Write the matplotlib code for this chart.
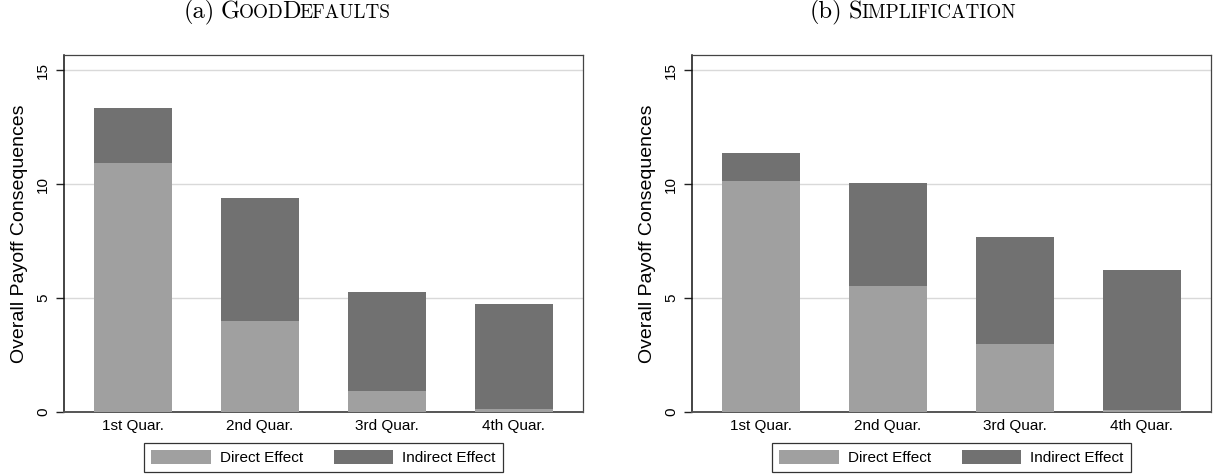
import matplotlib
matplotlib.use("Agg")
import matplotlib.pyplot as plt
import numpy as np

# ---------------- data ----------------
categories = ["1st Quar.", "2nd Quar.", "3rd Quar.", "4th Quar."]
gooddefaults_direct = [10.93, 3.98, 0.91, 0.12]
gooddefaults_indirect = [2.41, 5.41, 4.35, 4.61]
simplification_direct = [10.12, 5.55, 2.99, 0.10]
simplification_indirect = [1.23, 4.52, 4.67, 6.15]
series_labels = ["Direct Effect", "Indirect Effect"]
y_ticks = [0, 5, 10, 15]

# ---------------- style ----------------
W, H = 1213, 476
DPI = 100
C_DIRECT = "#a0a0a0"
C_INDIRECT = "#717171"
GRID = "#d9d9d9"
FONT = ["Liberation Sans", "DejaVu Sans"]
plt.rcParams["font.family"] = FONT

fig = plt.figure(figsize=(W / DPI, H / DPI), dpi=DPI)

def px_axes(l, r, t, b):
    return [l / W, 1 - b / H, (r - l) / W, (b - t) / H]

panels = [
    (px_axes(64, 583, 55, 412), gooddefaults_direct, gooddefaults_indirect),
    (px_axes(692, 1211, 55, 412), simplification_direct, simplification_indirect),
]

x = np.arange(1, len(categories) + 1)
for rect, direct, indirect in panels:
    ax = fig.add_axes(rect)
    ax.bar(x, direct, width=0.61, color=C_DIRECT, zorder=3, linewidth=0,
           label=series_labels[0])
    ax.bar(x, indirect, width=0.61, bottom=direct, color=C_INDIRECT, zorder=3,
           linewidth=0, label=series_labels[1])
    ax.set_xlim(0.455, 4.545)
    ax.set_ylim(0, 15.67)
    ax.set_yticks(y_ticks)
    ax.set_yticklabels([str(v) for v in y_ticks], rotation=90, va="center",
                       fontsize=11)
    ax.set_xticks(x)
    ax.set_xticklabels(categories, fontsize=11)
    ax.tick_params(axis="x", length=0, pad=5)
    ax.tick_params(axis="y", length=6, width=1, pad=4, color="#222222")
    for yv in y_ticks[1:]:
        ax.axhline(yv, color=GRID, lw=1.0, zorder=1)
    for side in ["top", "right"]:
        ax.spines[side].set_color("#444444")
        ax.spines[side].set_linewidth(0.9)
    ax.spines["left"].set_color("#111111")
    ax.spines["left"].set_linewidth(1.1)
    ax.spines["bottom"].set_color("#555555")
    ax.spines["bottom"].set_linewidth(1.4)
    ax.set_ylabel("Overall Payoff Consequences", fontsize=14)
    ax.yaxis.set_label_coords(-0.07, 0.5)
    leg = ax.legend(loc="upper center", bbox_to_anchor=(0.5, -0.087), ncol=2,
                    fontsize=11, frameon=True, fancybox=False, shadow=False,
                    handlelength=3.9, handleheight=1.05, handletextpad=0.6,
                    columnspacing=2.0, borderpad=0.45, borderaxespad=0)
    leg.get_frame().set_edgecolor("black")
    leg.get_frame().set_linewidth(0.9)

# ---------------- small-caps titles ----------------
def small_caps_title(cx, baseline, pieces, big=17.6, small=13.8, kern=1.5):
    renderer = fig.canvas.get_renderer()
    texts = []
    for s, kind in pieces:
        if kind == "gap":
            texts.append((None, s))
            continue
        size = big if kind == "big" else small
        t = fig.text(0, 0, s, fontsize=size, family="cmr10", ha="left",
                     va="baseline", transform=None)
        texts.append((t, t.get_window_extent(renderer).width - kern))
    total = sum(w for _, w in texts)
    xpos = cx - total / 2
    for t, w in texts:
        if t is not None:
            t.set_position((xpos, H - baseline))
        xpos += w

gap = 8.0
small_caps_title(286, 18.5, [("(a)", "big"), (gap, "gap"), ("G", "big"),
                             ("OOD", "small"), ("D", "big"),
                             ("EFAULTS", "small")])
small_caps_title(912, 18.5, [("(b)", "big"), (gap, "gap"), ("S", "big"),
                             ("IMPLIFICATION", "small")])

fig.savefig("out.png", dpi=DPI)
